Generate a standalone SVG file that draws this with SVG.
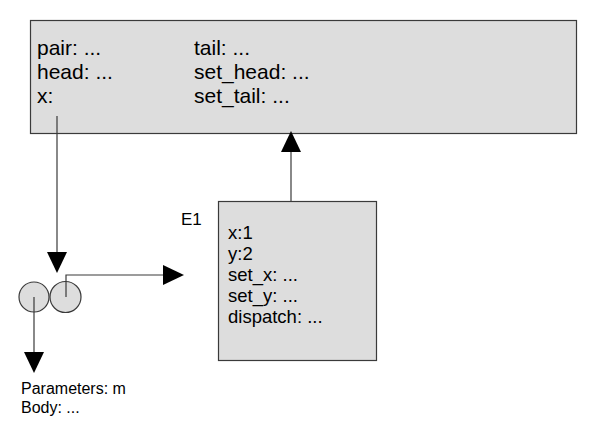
<svg xmlns="http://www.w3.org/2000/svg" width="606" height="437" viewBox="0 0 606 437">
<style>
.box{fill:#dddddd;stroke:#3a3a3a;stroke-width:1.2}
.t{font-family:"Liberation Sans",Arial,sans-serif;fill:#000}
.big{font-size:21px}
.mid{font-size:18.5px}
.sm{font-size:16px}
.lbl{font-size:17px}
.con{fill:none;stroke:#3a3a3a;stroke-width:1.2}
</style>
<defs>
<marker id="ah" markerUnits="userSpaceOnUse" markerWidth="22" markerHeight="22" refX="0" refY="10" orient="auto" viewBox="0 0 22 22">
<path d="M0,0 L21,10 L0,20 z" fill="#000"/>
</marker>
</defs>
<rect width="606" height="437" fill="#ffffff"/>
<g id="global">
<rect class="box" x="30.5" y="20.5" width="546" height="113"/>
<text class="t big" x="37" y="55">pair: ...</text>
<text class="t big" x="37" y="79">head: ...</text>
<text class="t big" x="37" y="103">x:</text>
<text class="t big" x="194" y="55">tail: ...</text>
<text class="t big" x="194" y="79">set_head: ...</text>
<text class="t big" x="194" y="103">set_tail: ...</text>
</g>
<g id="E1">
<text class="t lbl" x="181" y="225">E1</text>
<rect class="box" x="218.5" y="201.5" width="158" height="159"/>
<text class="t mid" x="228" y="239">x:1</text>
<text class="t mid" x="228" y="260">y:2</text>
<text class="t mid" x="228" y="281">set_x: ...</text>
<text class="t mid" x="228" y="302">set_y: ...</text>
<text class="t mid" x="228" y="323">dispatch: ...</text>
</g>
<g id="func">
<circle class="box" cx="34" cy="297" r="15"/>
<circle class="box" cx="65.5" cy="297" r="15.5"/>
</g>
<g id="funcText">
<text class="t sm" x="21" y="394">Parameters: m</text>
<text class="t sm" x="21" y="413">Body: ...</text>
</g>
<g id="connectors">
<path class="con" d="M57,116 V252" marker-end="url(#ah)"/>
<path class="con" d="M66,297 V275 H163" marker-end="url(#ah)"/>
<path class="con" d="M34,297 V352" marker-end="url(#ah)"/>
<path class="con" d="M291,201 V152" marker-end="url(#ah)"/>
</g>
</svg>
